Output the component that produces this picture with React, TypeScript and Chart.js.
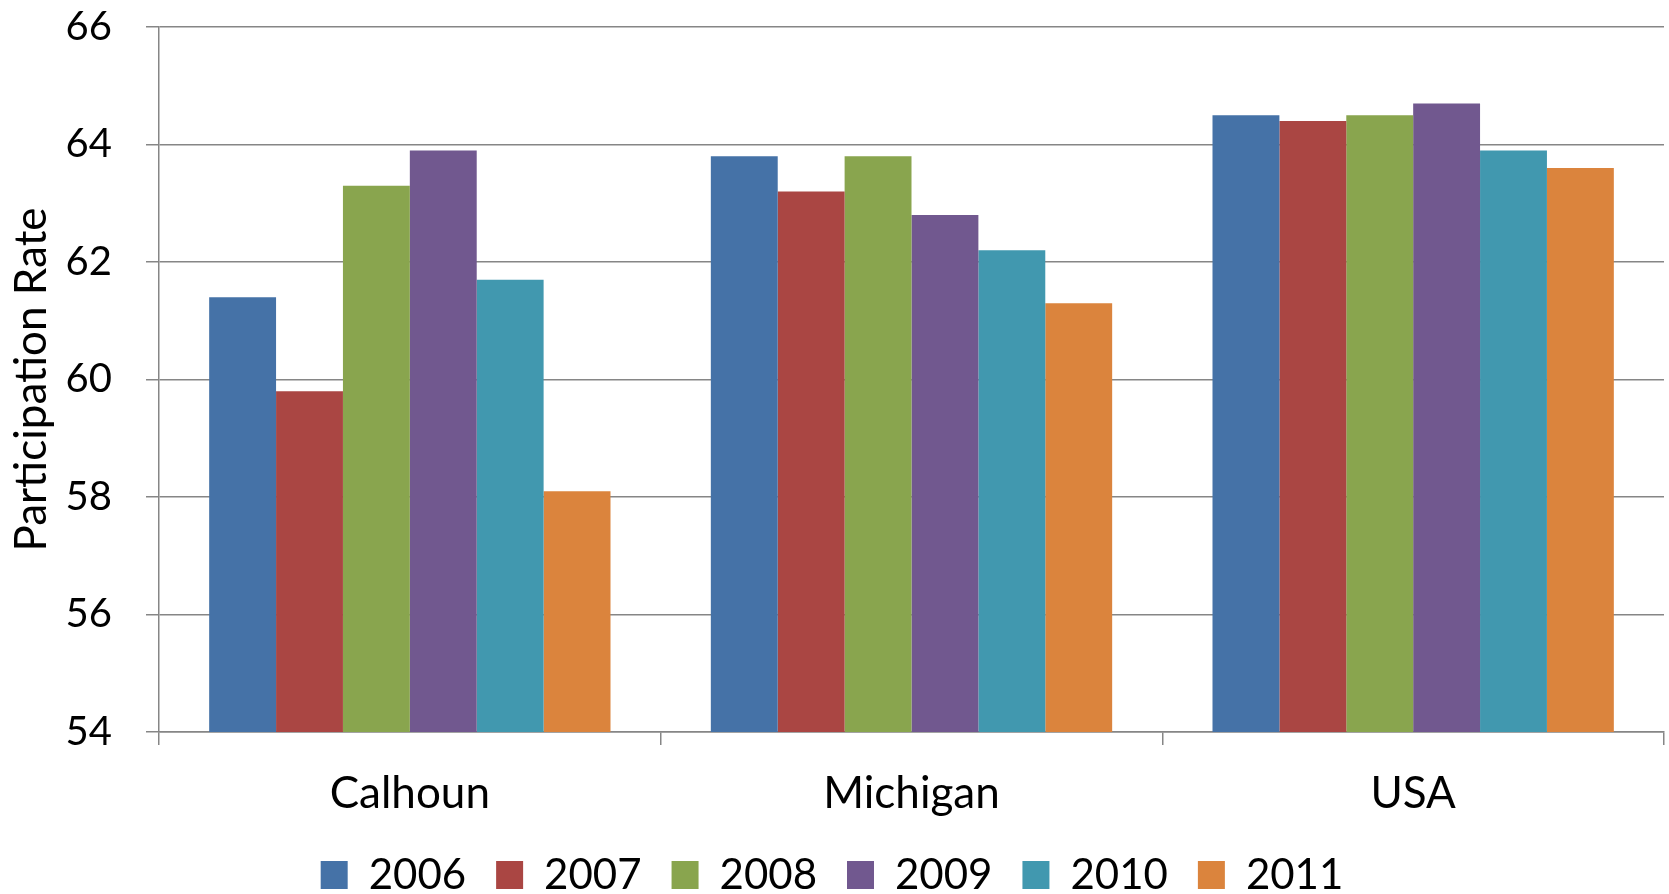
import React, { useEffect, useRef } from "react";
import { Chart, registerables } from "chart.js";

Chart.register(...registerables);

const categories = ["Calhoun", "Michigan", "USA"];
const years = ["2006", "2007", "2008", "2009", "2010", "2011"];
const v2006 = [61.4, 63.8, 64.5];
const v2007 = [59.8, 63.2, 64.4];
const v2008 = [63.3, 63.8, 64.5];
const v2009 = [63.9, 62.8, 64.7];
const v2010 = [61.7, 62.2, 63.9];
const v2011 = [58.1, 61.3, 63.6];
const seriesValues = [v2006, v2007, v2008, v2009, v2010, v2011];
const colors = ["#4572A7", "#AA4643", "#89A54E", "#71588F", "#4198AF", "#DB843D"];
const yMin = 54;
const yMax = 66;
const yStep = 2;
const yTitle = "Participation Rate";

const FONT = "Lato, 'Open Sans', sans-serif";

export default function App() {
  const ref = useRef<HTMLCanvasElement | null>(null);
  useEffect(() => {
    if (!ref.current) return;
    const chart = new Chart(ref.current, {
      type: "bar",
      data: {
        labels: categories,
        datasets: years.map((y, i) => ({
          label: y,
          data: seriesValues[i],
          backgroundColor: colors[i],
          borderWidth: 0,
          categoryPercentage: 0.8,
          barPercentage: 1.0,
        })),
      },
      options: {
        animation: false,
        responsive: false,
        maintainAspectRatio: false,
        layout: { padding: { top: 27, right: 5, left: 0, bottom: -12 } },
        plugins: {
          tooltip: { enabled: false },
          legend: {
            position: "bottom",
            labels: {
              font: { family: FONT, size: 42 },
              color: "#000",
              boxWidth: 27,
              boxHeight: 28,
              padding: 30,
            },
          },
        },
        scales: {
          x: {
            offset: true,
            grid: {
              offset: true,
              drawOnChartArea: false,
              drawTicks: true,
              tickLength: 13,
              color: "#868686",
              lineWidth: 1.5,
            },
            border: { display: true, color: "#868686", width: 1.5 },
            ticks: {
              font: { family: FONT, size: 44 },
              color: "#000",
              padding: 22,
              maxRotation: 0,
            },
            afterFit: (scale: any) => {
              scale.height = 92;
            },
          },
          y: {
            min: yMin,
            max: yMax,
            ticks: {
              stepSize: yStep,
              font: { family: FONT, size: 40 },
              color: "#000",
              padding: 34,
            },
            grid: {
              color: "#868686",
              lineWidth: 1.5,
              tickLength: 13,
              drawTicks: true,
            },
            border: { display: true, color: "#868686", width: 1.5 },
            title: {
              display: true,
              text: yTitle,
              font: { family: FONT, size: 44 },
              color: "#000",
              padding: { top: 5, bottom: 0 },
            },
            afterFit: (scale: any) => {
              scale.width = 159;
              scale.paddingTop = 0;
              scale.paddingBottom = 0;
            },
          },
        },
      },
    });
    return () => chart.destroy();
  }, []);
  return (
    <div style={{ position: "absolute", left: 0, top: 0, width: 1669, height: 894, background: "#fff" }}>
      <canvas ref={ref} width={1669} height={894} style={{ display: "block" }} />
    </div>
  );
}
